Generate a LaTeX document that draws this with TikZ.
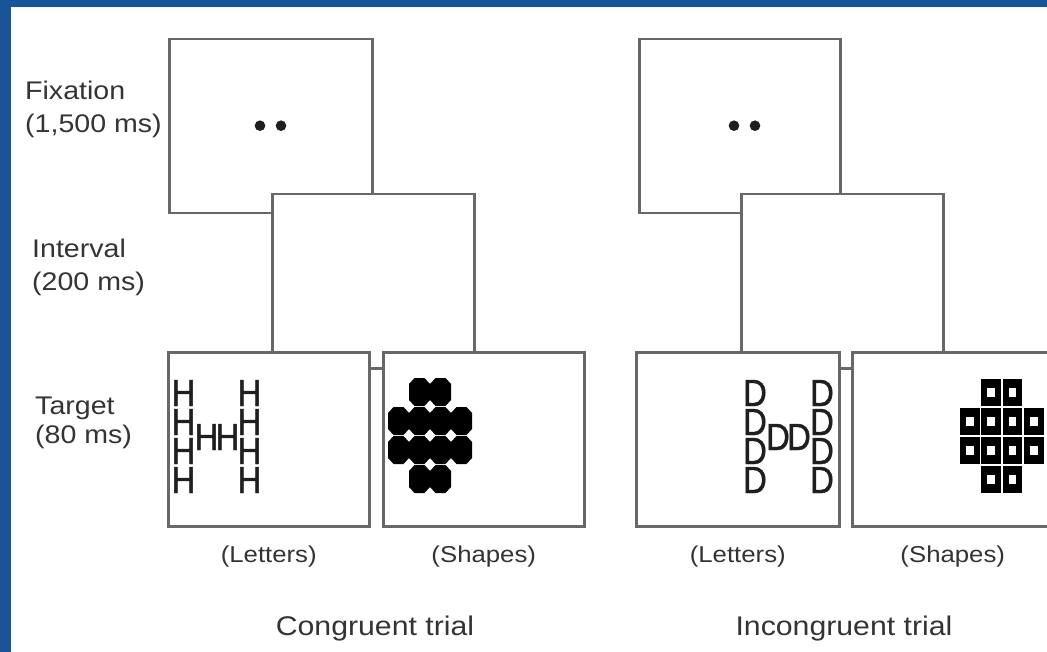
\documentclass[tikz,border=0pt]{standalone}
\usepackage{fontspec}
\setmainfont{Liberation Sans}[FakeStretch=1.12]
\newfontfamily\stimfont{Liberation Sans}[FakeStretch=0.87, FakeBold=1.1]
\definecolor{slideblue}{RGB}{24,84,150}
\definecolor{framegray}{RGB}{104,104,104}
\definecolor{labelgray}{RGB}{52,52,52}
\begin{document}
\begin{tikzpicture}[x=1pt,y=-1pt,
  screen/.style={draw=framegray, line width=2.5pt, fill=white, inner sep=0pt,
    anchor=north west, minimum width=#1, minimum height=174pt},
  screen/.default=202pt,
  rowlabel/.style={font=\fontsize{25.5}{30}\selectfont, text=labelgray, inner sep=0pt, anchor=base west},
  sublabel/.style={font=\fontsize{23}{28}\selectfont, text=labelgray, inner sep=0pt, anchor=base},
  triallabel/.style={font=\fontsize{27}{32}\selectfont, text=labelgray, inner sep=0pt, anchor=base},
  stim/.style={font=\stimfont\fontsize{37.7}{38}\selectfont, text=black!88, inner sep=0pt,
    text height=26.5pt, text depth=0pt, anchor=base},
  dot/.style={fill=black!88}]

% page and slide frame
\useasboundingbox (0,0) rectangle (1047,652);
\clip (0,0) rectangle (1047,652);
\fill[slideblue] (0,0) rectangle (1047,652);
\fill[white] (11,7) rectangle (1047,652);

% row labels
\node[rowlabel] (fixname) at (25,100) {Fixation};
\node[rowlabel] (fixtime) at (25,133) {(1,500 ms)};
\node[rowlabel] (intname) at (32,258) {Interval};
\node[rowlabel] (inttime) at (32,291) {(200 ms)};
\node[rowlabel] (tgtname) at (35,414) {Target};
\node[rowlabel] (tgttime) at (35,443) {(80 ms)};

% ---------- congruent trial ----------
\node[screen=203pt] (fixL) at (168,38) {};
\fill[dot] (260,125.7) circle (5.3pt);
\fill[dot] (281,125.7) circle (5.3pt);
\node[screen] (intL) at (271,193) {};
\node[screen=201pt] (letL) at (167,351) {};
\node[screen=201pt] (shpL) at (382,351) {};

% global H made of local H's
\foreach \r/\y in {1/406,2/435,3/464,4/493}{
  \node[stim] (hl\r) at (183.5,\y) {H};
  \node[stim] (hr\r) at (249.5,\y) {H};
}
\node[stim] (hm1) at (206.5,450) {H};
\node[stim] (hm2) at (227.5,450) {H};

% global H made of filled octagons
\foreach \c/\r in {1/0,2/0,0/1,1/1,2/1,3/1,0/2,1/2,2/2,3/2,1/3,2/3}{
  \pgfmathsetmacro\x{388+21*\c}
  \pgfmathsetmacro\y{378+29*\r}
  \fill[black] (\x+5.5,\y) -- (\x+15.5,\y) -- (\x+21,\y+6) -- (\x+21,\y+22) --
    (\x+15.5,\y+28) -- (\x+5.5,\y+28) -- (\x,\y+22) -- (\x,\y+6) -- cycle;
}

\node[sublabel] (letLcap) at (letL.south |- 0,562) {(Letters)};
\node[sublabel] (shpLcap) at (shpL.south |- 0,562) {(Shapes)};
\node[triallabel] (congr) at (375,635) {Congruent trial};

% ---------- incongruent trial ----------
\node[screen=201pt] (fixR) at (638,38) {};
\fill[dot] (734,125.7) circle (5.3pt);
\fill[dot] (755,125.7) circle (5.3pt);
\node[screen=202pt] (intR) at (740,193) {};
\node[screen=203pt] (letR) at (635,351) {};
\node[screen=201pt] (shpR) at (851,351) {};

% global H made of local D's
\foreach \r/\y in {1/406,2/435,3/464,4/493}{
  \node[stim] (dl\r) at (755,\y) {D};
  \node[stim] (dr\r) at (822,\y) {D};
}
\node[stim] (dm1) at (778,450) {D};
\node[stim] (dm2) at (799,450) {D};

% global H made of framed squares
\foreach \c/\r in {1/0,2/0,0/1,1/1,2/1,3/1,0/2,1/2,2/2,3/2,1/3,2/3}{
  \pgfmathsetmacro\x{960+21.3*\c}
  \pgfmathsetmacro\y{379+29*\r}
  \fill[black] (\x,\y) rectangle (\x+19.8,\y+27.3);
  \fill[white] (\x+6.1,\y+9.4) rectangle (\x+13.7,\y+17.9);
}

\node[sublabel] (letRcap) at (letR.south |- 0,562) {(Letters)};
\node[sublabel] (shpRcap) at (shpR.south |- 0,562) {(Shapes)};
\node[triallabel] (incongr) at (844,635) {Incongruent trial};
\end{tikzpicture}
\end{document}
